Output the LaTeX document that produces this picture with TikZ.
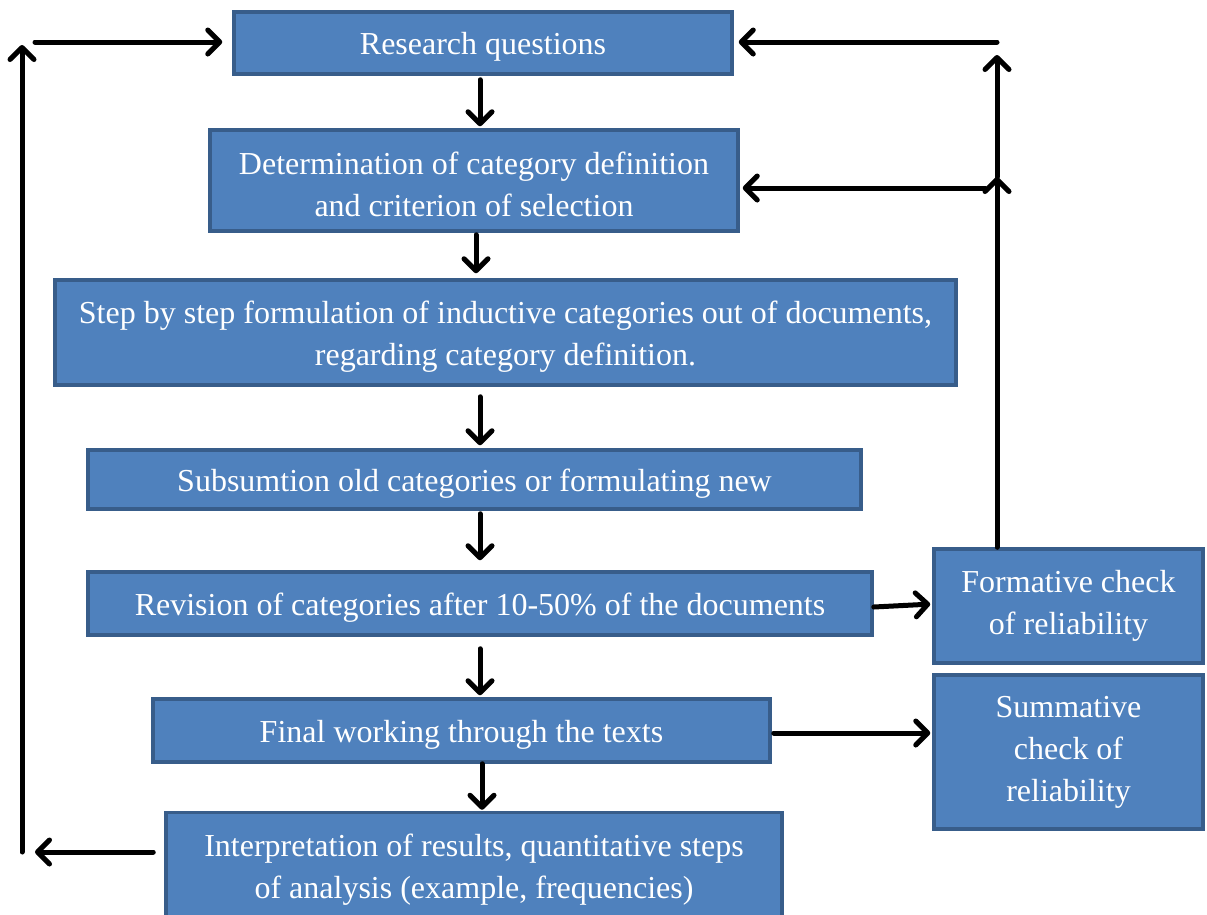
\documentclass[tikz,border=0pt]{standalone}
\usepackage{fontspec}
\setmainfont{Liberation Serif}
\usetikzlibrary{arrows.meta}
\definecolor{boxfill}{HTML}{4F81BD}
\definecolor{boxline}{HTML}{385D8A}
\newcommand{\topstrut}{\rule{0pt}{0.97em}}
\tikzset{
  box/.style={draw=boxline, line width=3.5pt, fill=boxfill, text=white, align=center,
    inner sep=0pt, font=\fontsize{32}{42}\selectfont,
    execute at begin node={\rule{0pt}{0.95em}}},
  arr/.style={line width=5pt, line cap=round, -{Straight Barb[length=12pt,width=24pt,line width=5pt,round]}}
}
\begin{document}
\begin{tikzpicture}[x=1pt,y=-1pt]
\useasboundingbox (0,0) rectangle (1207,914);
\node[box, minimum width=498pt, minimum height=62pt] (rq) at (483,43) {Research questions};
\node[box, minimum width=528pt, minimum height=101pt] (det) at (474,180.5) {\topstrut Determination of category definition\\and criterion of selection};
\node[box, minimum width=901pt, minimum height=105pt] (step) at (505.5,332.5) {\topstrut Step by step formulation of inductive categories out of documents,\\regarding category definition.};
\node[box, minimum width=773pt, minimum height=59pt] (sub) at (474.5,479.5) {Subsumtion old categories or formulating new};
\node[box, minimum width=784pt, minimum height=63pt] (rev) at (480,603.5) {Revision of categories after 10-50\% of the documents};
\node[box, minimum width=617pt, minimum height=63pt] (fin) at (461.5,730.5) {Final working through the texts};
\node[box, minimum width=616pt, minimum height=115pt] (int) at (474,870) {Interpretation of results, quantitative steps\\of analysis (example, frequencies)};
\node[box, minimum width=269pt, minimum height=114pt] (form) at (1068.5,606) {Formative check\\of reliability};
\node[box, minimum width=269pt, minimum height=154pt] (sum) at (1068.5,752) {Summative\\check of\\reliability};

% vertical flow arrows
\draw[arr, shorten <=4pt, shorten >=2pt] (rq.south -| 480,0) -- (det.north -| 480,0);
\draw[arr, shorten <=2pt, shorten >=5pt] (det.south -| 476,0) -- (step.north -| 476,0);
\draw[arr, shorten <=10pt, shorten >=3pt] (step.south -| 480,0) -- (sub.north -| 480,0);
\draw[arr, shorten <=3pt, shorten >=10pt] (sub.south -| 480,0) -- (rev.north -| 480,0);
\draw[arr, shorten <=12pt, shorten >=2pt] (rev.south -| 480,0) -- (fin.north -| 480,0);
\draw[arr, shorten <=0pt, shorten >=1pt] (fin.south -| 482,0) -- (int.north -| 482,0);

% side arrows
\draw[arr, shorten >=2pt] (rev.east |- 0,607) -- (form.west |- 0,604);
\draw[arr, shorten <=2pt, shorten >=2pt] (fin.east |- 0,733) -- (sum.west |- 0,733);

% right feedback
\coordinate (r1) at (997,177);
\coordinate (r2) at (997,55);
\coordinate (h1) at (985,188);
\coordinate (h2) at (997,42);
\draw[arr] (form.north -| r1) -- (r1);
\draw[arr] (r1) -- (r2);
\draw[arr, shorten >=3pt] (h1) -- (det.east |- h1);
\draw[arr, shorten >=5pt] (h2) -- (rq.east |- h2);

% left feedback
\coordinate (l1) at (35,852);
\coordinate (lb) at (22,852);
\coordinate (lt) at (22,45);
\coordinate (l2) at (35,42);
\draw[arr, shorten <=11pt] (int.west |- l1) -- (l1);
\draw[arr] (lb) -- (lt);
\draw[arr, shorten >=10pt] (l2) -- (rq.west |- l2);
\end{tikzpicture}
\end{document}
